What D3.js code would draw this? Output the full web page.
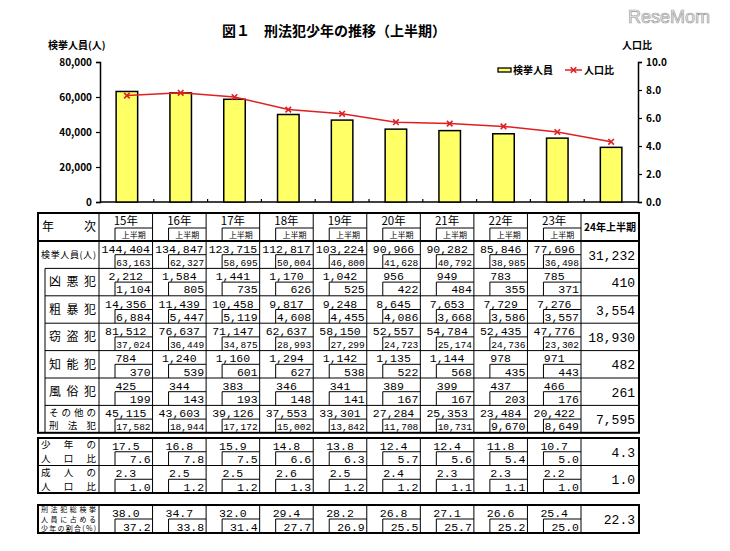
<!DOCTYPE html>
<html>
<head>
<meta charset="utf-8">
<title>刑法犯少年の推移（上半期）</title>
<script src="https://d3js.org/d3.v7.min.js"></script>
<style>
  body { margin: 0; background: #fff; }
  text { font-family: "Noto Sans CJK JP", sans-serif; }
  .num { font-family: "Liberation Mono", "DejaVu Sans Mono", monospace; }
</style>
</head>
<body>
<div id="chart"></div>
<script>
// ---- data ----
const years = ["15年", "16年", "17年", "18年", "19年", "20年", "21年", "22年", "23年"];
const lastLabel = "24年上半期";
const chartCats = ["15", "16", "17", "18", "19", "20", "21", "22", "23", "24"];

// chart series (上半期)
const arrestedH1Chart = [63163, 62327, 58695, 50004, 46800, 41628, 40792, 38985, 36498, 31232];
const youthRatioChart = [7.6, 7.8, 7.5, 6.6, 6.3, 5.7, 5.6, 5.4, 5.0, 4.3];
const leftTicks = [0, 20000, 40000, 60000, 80000];
const rightTicks = [0, 2, 4, 6, 8, 10];

// table rows: full-year values, 上半期 values, 24年上半期
const arrestedFull = [144404, 134847, 123715, 112817, 103224, 90966, 90282, 85846, 77696];
const arrestedH1 = [63163, 62327, 58695, 50004, 46800, 41628, 40792, 38985, 36498];
const violentFull = [2212, 1584, 1441, 1170, 1042, 956, 949, 783, 785];
const violentH1 = [1104, 805, 735, 626, 525, 422, 484, 355, 371];
const roughFull = [14356, 11439, 10458, 9817, 9248, 8645, 7653, 7729, 7276];
const roughH1 = [6884, 5447, 5119, 4608, 4455, 4086, 3668, 3586, 3557];
const theftFull = [81512, 76637, 71147, 62637, 58150, 52557, 54784, 52435, 47776];
const theftH1 = [37024, 36449, 34875, 28993, 27299, 24723, 25174, 24736, 23302];
const fraudFull = [784, 1240, 1160, 1294, 1142, 1135, 1144, 978, 971];
const fraudH1 = [370, 539, 601, 627, 538, 522, 568, 435, 443];
const moralFull = [425, 344, 383, 346, 341, 389, 399, 437, 466];
const moralH1 = [199, 143, 193, 148, 141, 167, 167, 203, 176];
const otherFull = [45115, 43603, 39126, 37553, 33301, 27284, 25353, 23484, 20422];
const otherH1 = [17582, 18944, 17172, 15002, 13842, 11708, 10731, 9670, 8649];
const youthFull = [17.5, 16.8, 15.9, 14.8, 13.8, 12.4, 12.4, 11.8, 10.7];
const youthH1 = [7.6, 7.8, 7.5, 6.6, 6.3, 5.7, 5.6, 5.4, 5.0];
const adultFull = [2.3, 2.5, 2.5, 2.6, 2.5, 2.4, 2.3, 2.3, 2.2];
const adultH1 = [1.0, 1.2, 1.2, 1.3, 1.2, 1.2, 1.1, 1.1, 1.0];
const shareFull = [38.0, 34.7, 32.0, 29.4, 28.2, 26.8, 27.1, 26.6, 25.4];
const shareH1 = [37.2, 33.8, 31.4, 27.7, 26.9, 25.5, 25.7, 25.2, 25.0];

const table1 = [
  { key: "arrested", label: ["検挙人員(人)"], full: arrestedFull, h1: arrestedH1, last: 31232 },
  { key: "violent", label: ["凶悪犯"], full: violentFull, h1: violentH1, last: 410 },
  { key: "rough", label: ["粗暴犯"], full: roughFull, h1: roughH1, last: 3554 },
  { key: "theft", label: ["窃盗犯"], full: theftFull, h1: theftH1, last: 18930 },
  { key: "fraud", label: ["知能犯"], full: fraudFull, h1: fraudH1, last: 482 },
  { key: "moral", label: ["風俗犯"], full: moralFull, h1: moralH1, last: 261 },
  { key: "other", label: ["その他の", "刑法犯"], full: otherFull, h1: otherH1, last: 7595 }
];
const table2 = [
  { key: "youth", label: ["少年の", "人口比"], full: youthFull, h1: youthH1, last: 4.3 },
  { key: "adult", label: ["成人の", "人口比"], full: adultFull, h1: adultH1, last: 1.0 }
];
const table3 = [
  { key: "share", label: ["刑法犯総検挙", "人員に占める", "少年の割合(%)"], full: shareFull, h1: shareH1, last: 22.3 }
];

// ---- svg ----
const width = 730, height = 551;
const svg = d3.select("#chart").append("svg")
  .attr("width", width).attr("height", height);

// watermark
svg.append("text")
  .attr("x", 628).attr("y", 23)
  .style("font-family", "Liberation Sans, sans-serif")
  .attr("font-size", 18)
  .attr("fill", "#f4f4f4").attr("stroke", "#9a9a9a").attr("stroke-width", 0.7)
  .text("ReseMom");

// title
svg.append("text")
  .attr("x", 222).attr("y", 36)
  .attr("font-size", 14).attr("font-weight", "bold")
  .text("図１　刑法犯少年の推移（上半期）");

// ---- chart ----
const plotTop = 62, plotBottom = 202, plotLeft = 100, plotRight = 638;

const x = d3.scaleBand().domain(chartCats).range([plotLeft, plotRight]).paddingInner(0.6).paddingOuter(0.3);
const yL = d3.scaleLinear().domain([0, 80000]).range([plotBottom, plotTop]);
const yR = d3.scaleLinear().domain([0, 10]).range([plotBottom, plotTop]);

const leftAxis = d3.axisLeft(yL).tickValues(leftTicks).tickSize(4).tickPadding(4)
  .tickFormat(d => d === 0 ? "0" : d3.format(",")(d));
const gL = svg.append("g").attr("transform", "translate(" + plotLeft + ",0)").call(leftAxis);

const rightAxis = d3.axisRight(yR).tickValues(rightTicks).tickSize(4).tickPadding(4)
  .tickFormat(d3.format(".1f"));
const gR = svg.append("g").attr("transform", "translate(" + plotRight + ",0)").call(rightAxis);

[gL, gR].forEach(g => {
  g.select(".domain").attr("stroke", "#000").attr("stroke-width", 1.5);
  g.selectAll(".tick line").attr("stroke", "#000").attr("stroke-width", 1.2);
  g.selectAll("text").attr("font-size", 10).attr("font-weight", "bold")
    .style("font-family", "Noto Sans CJK JP, sans-serif");
});

// x baseline with small ticks between categories
svg.append("line")
  .attr("x1", plotLeft).attr("x2", plotRight)
  .attr("y1", plotBottom).attr("y2", plotBottom)
  .attr("stroke", "#000").attr("stroke-width", 1.5);
const gap = x.step() - x.bandwidth();
svg.append("g").selectAll("line")
  .data(chartCats.slice(1))
  .enter().append("line")
  .attr("x1", d => x(d) - gap / 2)
  .attr("x2", d => x(d) - gap / 2)
  .attr("y1", plotBottom).attr("y2", plotBottom - 3)
  .attr("stroke", "#000").attr("stroke-width", 1.2);

// bars
svg.append("g").selectAll("rect")
  .data(arrestedH1Chart)
  .enter().append("rect")
  .attr("x", (d, i) => x(chartCats[i]))
  .attr("y", d => yL(d))
  .attr("width", x.bandwidth())
  .attr("height", d => plotBottom - yL(d))
  .attr("fill", "#ffff66")
  .attr("stroke", "#000").attr("stroke-width", 1.5);

// line
const line = d3.line()
  .x((d, i) => x(chartCats[i]) + x.bandwidth() / 2)
  .y(d => yR(d));
svg.append("path")
  .datum(youthRatioChart)
  .attr("d", line)
  .attr("fill", "none").attr("stroke", "#e02020").attr("stroke-width", 1.5);
svg.append("g").selectAll("path")
  .data(youthRatioChart)
  .enter().append("path")
  .attr("d", d3.symbol(d3.symbolX, 22))
  .attr("transform", (d, i) => "translate(" + (x(chartCats[i]) + x.bandwidth() / 2) + "," + yR(d) + ")")
  .attr("fill", "none").attr("stroke", "#e02020").attr("stroke-width", 1.6);

// axis titles
svg.append("text").attr("x", 48).attr("y", 49)
  .attr("font-size", 10).attr("font-weight", "bold").text("検挙人員(人)");
svg.append("text").attr("x", 622).attr("y", 49)
  .attr("font-size", 10).attr("font-weight", "bold").text("人口比");

// legend
const lg = svg.append("g");
lg.append("rect").attr("x", 498).attr("y", 68).attr("width", 13).attr("height", 4)
  .attr("fill", "#ffff66").attr("stroke", "#000").attr("stroke-width", 1.3);
lg.append("text").attr("x", 513).attr("y", 74).attr("font-size", 10).attr("font-weight", "bold").text("検挙人員");
lg.append("line").attr("x1", 565).attr("x2", 582).attr("y1", 70).attr("y2", 70)
  .attr("stroke", "#e02020").attr("stroke-width", 1.5);
lg.append("path").attr("d", d3.symbol(d3.symbolX, 22))
  .attr("transform", "translate(573.5,70)")
  .attr("fill", "none").attr("stroke", "#e02020").attr("stroke-width", 1.6);
lg.append("text").attr("x", 584).attr("y", 74).attr("font-size", 10).attr("font-weight", "bold").text("人口比");

// ---- tables ----
const tLeft = 38, labelRight = 99, lastLeft = 581, tRight = 639;
const col = d3.scaleBand().domain(years).range([labelRight, lastLeft]);
const boxIn = 16;

function fmt(v, isRatio) {
  return isRatio ? d3.format(".1f")(v) : d3.format(",")(v);
}

function hline(g, x1, x2, y, w) {
  g.append("line").attr("x1", x1).attr("x2", x2).attr("y1", y).attr("y2", y)
    .attr("stroke", "#000").attr("stroke-width", w || 1);
}
function vline(g, xx, y1, y2, w) {
  g.append("line").attr("x1", xx).attr("x2", xx).attr("y1", y1).attr("y2", y2)
    .attr("stroke", "#000").attr("stroke-width", w || 1);
}

// label inside first column, spread across the available width
function drawLabel(g, lines, x1, x2, y0, y1, size) {
  const n = lines.length;
  const h = (y1 - y0) / n;
  lines.forEach((t, k) => {
    const txt = g.append("text")
      .attr("x", x1).attr("y", y0 + h * k + h / 2 + size * 0.36)
      .attr("font-size", size).text(t);
    if (t.length > 1) txt.attr("textLength", x2 - x1).attr("lengthAdjust", "spacing");
  });
}

// data cell: full-year value on top, 上半期 value in a small box
function drawCell(g, x0, x1, y0, y1, full, h1, isRatio) {
  const mid = y0 + (y1 - y0) * 0.5;
  g.append("path")
    .attr("d", "M" + (x0 + boxIn) + "," + y1 + "V" + mid + "H" + x1)
    .attr("fill", "none").attr("stroke", "#000").attr("stroke-width", 1);
  g.append("text").attr("class", "num")
    .attr("x", (x0 + x1) / 2).attr("y", mid - 2)
    .attr("text-anchor", "middle").attr("font-size", 11.5)
    .text(fmt(full, isRatio));
  const s = fmt(h1, isRatio);
  g.append("text").attr("class", "num")
    .attr("x", x1 - 2).attr("y", y1 - 2.5)
    .attr("text-anchor", "end").attr("font-size", s.length >= 6 ? 9.5 : 11.5)
    .text(s);
}

function drawRows(rows, y0, rowH, opts) {
  const g = svg.append("g");
  const rowY = d3.scaleBand().domain(rows.map(r => r.key)).range([y0, y0 + rowH * rows.length]);
  const yEnd = y0 + rowH * rows.length;
  rows.forEach((r, i) => {
    const ry0 = rowY(r.key), ry1 = ry0 + rowY.bandwidth();
    const indented = opts.indent && i >= opts.indentFrom;
    if (i > 0) hline(g, indented ? 45 : tLeft, tRight, ry0);
    const lx1 = indented ? 49 : tLeft + 3;
    const size = r.label.length === 3 ? 7 : (r.label.length === 2 ? 9.5 : (r.label[0].length > 3 ? 9 : 12));
    drawLabel(g, r.label, lx1, labelRight - 3, ry0, ry1, size);
    years.forEach((yr, j) => {
      drawCell(g, col(yr), col(yr) + col.bandwidth(), ry0, ry1, r.full[j], r.h1[j], opts.ratio);
    });
    g.append("text").attr("class", "num")
      .attr("x", tRight - 4).attr("y", (ry0 + ry1) / 2 + 5)
      .attr("text-anchor", "end").attr("font-size", 13)
      .text(fmt(r.last, opts.ratio));
  });
  // verticals
  vline(g, labelRight, y0, yEnd);
  years.forEach(yr => vline(g, col(yr) + col.bandwidth(), y0, yEnd));
  if (opts.indent) vline(g, 45, rowY(rows[opts.indentFrom].key), yEnd);
  g.append("rect").attr("x", tLeft).attr("y", y0).attr("width", tRight - tLeft).attr("height", yEnd - y0)
    .attr("fill", "none").attr("stroke", "#000").attr("stroke-width", 2);
  return g;
}

// table 1 header row
const hdr = svg.append("g");
const hy0 = 213, hy1 = 241;
hdr.append("text").attr("x", 42).attr("y", 231).attr("font-size", 12).text("年");
hdr.append("text").attr("x", 96).attr("y", 231).attr("font-size", 12).attr("text-anchor", "end").text("次");
years.forEach(yr => {
  const x0 = col(yr), x1 = x0 + col.bandwidth();
  hdr.append("text").attr("x", (x0 + x1) / 2).attr("y", 225)
    .attr("text-anchor", "middle").attr("font-size", 11.5).text(yr);
  hdr.append("path").attr("d", "M" + (x0 + boxIn) + "," + hy1 + "V" + 228 + "H" + x1)
    .attr("fill", "none").attr("stroke", "#000");
  hdr.append("text").attr("x", (x0 + boxIn + x1) / 2).attr("y", 238)
    .attr("text-anchor", "middle").attr("font-size", 8).text("上半期");
});
hdr.append("text").attr("x", (lastLeft + tRight) / 2).attr("y", 231)
  .attr("text-anchor", "middle").attr("font-size", 10).attr("font-weight", "bold").text(lastLabel);
vline(hdr, labelRight, hy0, hy1);
years.forEach(yr => vline(hdr, col(yr) + col.bandwidth(), hy0, hy1));

drawRows(table1, hy1, 27.4, { ratio: false, indent: true, indentFrom: 1 });
hdr.append("rect").attr("x", tLeft).attr("y", hy0).attr("width", tRight - tLeft).attr("height", hy1 - hy0)
  .attr("fill", "none").attr("stroke", "#000").attr("stroke-width", 2);

drawRows(table2, 438, 27.5, { ratio: true });
drawRows(table3, 505, 28, { ratio: true });
</script>
</body>
</html>
